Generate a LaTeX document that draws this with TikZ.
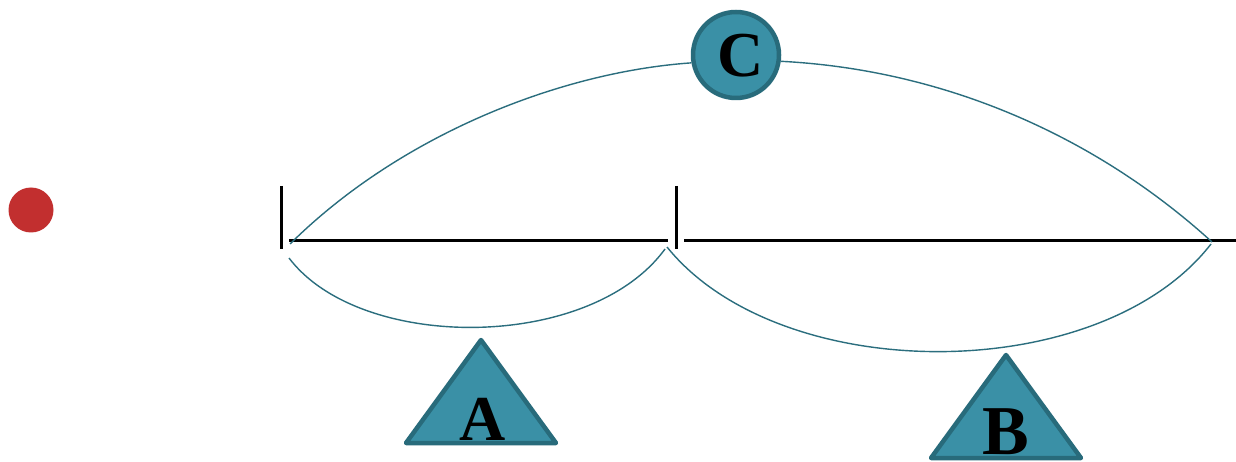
\documentclass[tikz,border=0pt]{standalone}
\usepackage{fontspec}
\setmainfont{Liberation Serif}
\definecolor{tealfill}{HTML}{3A90A6}
\definecolor{tealedge}{HTML}{286B7B}
\definecolor{arcline}{HTML}{2B6E7E}
\definecolor{dotred}{HTML}{C22F2F}
\begin{document}
\begin{tikzpicture}[x=1pt,y=-1pt,
  arc/.style={draw=arcline,line width=1.4pt},
  bar/.style={draw=black,line width=3pt},
  shapebox/.style={fill=tealfill,draw=tealedge,line width=4.5pt,line join=round},
  letter/.style={font=\fontsize{64}{64}\selectfont\bfseries,text=black,inner sep=0pt,anchor=base}]
\useasboundingbox[fill=white] (0,0) rectangle (1236,462);
% red dot
\fill[dotred] (31,210) circle (22.5);
% ticks and baseline
\coordinate (t1a) at (281,186); \coordinate (t1b) at (281,249);
\coordinate (t2a) at (676,186); \coordinate (t2b) at (676,249);
\draw[bar] (t1a) -- (t1b);
\draw[bar] (t2a) -- (t2b);
\coordinate (l1a) at (289,241); \coordinate (l1b) at (668,241);
\coordinate (l2a) at (684,241); \coordinate (l2b) at (1236,241);
\draw[bar] (l1a) -- (l1b);
\draw[bar] (l2a) -- (l2b);
% circle C
\node[circle,shapebox,minimum size=86pt,inner sep=0pt] (C) at (736,55) {};
\node[letter] (Ct) at (741,77) {C};
% triangles
\coordinate (Aa) at (481,340); \coordinate (Al) at (406,443); \coordinate (Ar) at (556,443);
\draw[shapebox] (Aa) -- (Ar) -- (Al) -- cycle;
\node[letter] (At) at (483,440) {A};
\coordinate (Ba) at (1006,355); \coordinate (Bl) at (931,458); \coordinate (Br) at (1081,458);
\draw[shapebox] (Ba) -- (Br) -- (Bl) -- cycle;
\node[letter,font=\fontsize{70}{70}\selectfont\bfseries] (Bt) at (1006,454) {B};
% arc end points
\coordinate (p1) at (290,244);
\coordinate (p2) at (1212,242);
\coordinate (q1) at (289,258);
\coordinate (q2) at (665,249);
\coordinate (r1) at (667,247);
\coordinate (r2) at (1211,244);
% arcs
\draw[arc] (p1) .. controls (400,135) and (560,72) .. (C.190);
\draw[arc] (C.-8) .. controls (950,70) and (1100,140) .. (p2);
\draw[arc] (q1) .. controls (360,352) and (590,352) .. (q2);
\draw[arc] (r1) .. controls (780,387) and (1100,387) .. (r2);
\end{tikzpicture}
\end{document}
